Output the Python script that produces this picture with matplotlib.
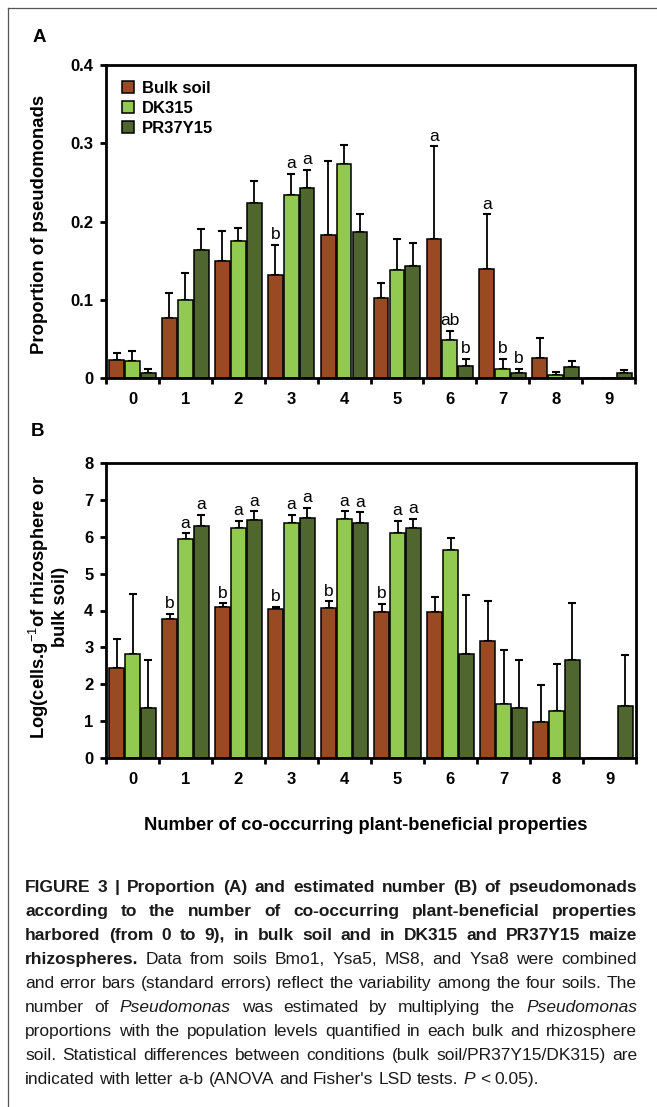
import numpy as np
import matplotlib
matplotlib.use("Agg")
import matplotlib.pyplot as plt
from matplotlib import font_manager
from matplotlib.patches import Patch
from matplotlib.lines import Line2D

plt.rcParams['font.family'] = ['Liberation Sans', 'DejaVu Sans']
plt.rcParams['mathtext.fontset'] = 'custom'
plt.rcParams['mathtext.rm'] = 'Liberation Sans'
plt.rcParams['mathtext.bf'] = 'Liberation Sans:bold'

# data
groups = [str(i) for i in range(10)]
series = ["Bulk soil", "DK315", "PR37Y15"]
colors = ["#9A4A22", "#92C951", "#4F662E"]

# panel A: proportion of pseudomonads (mean, standard error)
prop_bulk = [0.023, 0.077, 0.150, 0.131, 0.183, 0.102, 0.177, 0.139, 0.026, 0.0]
prop_bulk_se = [0.009, 0.031, 0.038, 0.039, 0.094, 0.019, 0.119, 0.070, 0.025, 0.0]
prop_dk = [0.022, 0.100, 0.175, 0.234, 0.274, 0.138, 0.048, 0.012, 0.004, 0.0]
prop_dk_se = [0.012, 0.034, 0.017, 0.027, 0.024, 0.040, 0.012, 0.012, 0.004, 0.0]
prop_pr = [0.007, 0.164, 0.224, 0.243, 0.187, 0.143, 0.015, 0.006, 0.014, 0.006]
prop_pr_se = [0.005, 0.026, 0.028, 0.023, 0.023, 0.029, 0.009, 0.006, 0.008, 0.004]

# panel B: log(cells/g)
log_bulk = [2.43, 3.76, 4.10, 4.03, 4.08, 3.96, 3.96, 3.18, 0.98, 0.0]
log_bulk_se = [0.81, 0.14, 0.09, 0.07, 0.17, 0.21, 0.41, 1.07, 0.99, 0.0]
log_dk = [2.82, 5.93, 6.25, 6.38, 6.47, 6.11, 5.64, 1.46, 1.27, 0.0]
log_dk_se = [1.62, 0.16, 0.18, 0.21, 0.22, 0.31, 0.33, 1.47, 1.27, 0.0]
log_pr = [1.35, 6.30, 6.45, 6.50, 6.38, 6.25, 2.81, 1.35, 2.66, 1.41]
log_pr_se = [1.31, 0.29, 0.24, 0.28, 0.28, 0.23, 1.60, 1.31, 1.53, 1.38]

# significance letters: (group, series index, letter)
letters_a = [(3, 0, "b"), (3, 1, "a"), (3, 2, "a"),
             (6, 0, "a"), (6, 1, "ab"), (6, 2, "b"),
             (7, 0, "a"), (7, 1, "b"), (7, 2, "b")]
letters_b = [(g, s, l) for g in range(1, 6) for s, l in [(0, "b"), (1, "a"), (2, "a")]]

W, H = 657, 1107
fig = plt.figure(figsize=(W / 100, H / 100), dpi=100)

def px_axes(left, top, right, bottom):
    return fig.add_axes([left / W, 1 - bottom / H, (right - left) / W, (bottom - top) / H])

ax_a = px_axes(106, 65, 635, 378)
ax_b = px_axes(106, 463, 636, 758)

x = np.arange(len(groups))
bw = 0.28
offs = [-0.3, 0.0, 0.3]

def draw_panel(ax, means, ses, letters, ymax, yticks, yticklabels):
    for i, (m, se) in enumerate(zip(means, ses)):
        m = np.array(m)
        se = np.array(se)
        ax.bar(x + offs[i], m, bw, color=colors[i], edgecolor="black", linewidth=1.1,
               label=series[i], zorder=2)
        keep = se > 0
        ax.errorbar(x[keep] + offs[i], m[keep], yerr=[np.zeros(keep.sum()), se[keep]],
                    fmt="none", ecolor="black", elinewidth=1.3, capsize=3.2, capthick=1.5,
                    zorder=1)
    for g, s, lab in letters:
        top = means[s][g] + ses[s][g]
        ax.annotate(lab, (g + offs[s], top), xytext=(0, 2), textcoords="offset points",
                    ha="center", va="bottom", fontsize=12.5)
    ax.set_xlim(-0.5, 9.5)
    ax.set_ylim(0, ymax)
    ax.set_yticks(yticks)
    ax.set_yticklabels(yticklabels, fontsize=12, fontweight="bold")
    ax.set_xticks(x)
    ax.set_xticklabels(groups, fontsize=12, fontweight="bold")
    ax.set_xticks(np.arange(-0.5, 10, 1), minor=True)
    ax.tick_params(axis="x", which="major", length=0, pad=10)
    ax.tick_params(axis="x", which="minor", length=4, width=2, direction="out")
    ax.tick_params(axis="y", which="major", length=4, width=2, direction="out", pad=5)
    for sp in ax.spines.values():
        sp.set_linewidth(2.0)

draw_panel(ax_a, [prop_bulk, prop_dk, prop_pr], [prop_bulk_se, prop_dk_se, prop_pr_se],
           letters_a, 0.4, [0, 0.1, 0.2, 0.3, 0.4], ["0", "0.1", "0.2", "0.3", "0.4"])
draw_panel(ax_b, [log_bulk, log_dk, log_pr], [log_bulk_se, log_dk_se, log_pr_se],
           letters_b, 8, range(9), [str(i) for i in range(9)])

handles = [Patch(facecolor=c, edgecolor="black", linewidth=1.1) for c in colors]
ax_a.legend(handles, series, loc="upper left", bbox_to_anchor=(0.0, 1.0), frameon=False,
            prop={"size": 12, "weight": "bold"}, handlelength=0.75, handleheight=0.75,
            handletextpad=0.45, labelspacing=0.3, borderaxespad=0.55)

# labels
fig.text(40 / W, 1 - 224 / H, "Proportion of pseudomonads", rotation=90, ha="center",
         va="center", fontsize=13.3, fontweight="bold")
fig.text(48 / W, 1 - 607 / H, "Log(cells.g$^{-1}$of rhizosphere or\nbulk soil)",
         rotation=90, ha="center", va="center", multialignment="center",
         fontsize=13.2, fontweight="bold", linespacing=1.05)
fig.text(366 / W, 1 - 825 / H, "Number of co-occurring plant-beneficial properties",
         ha="center", va="center", fontsize=13.2, fontweight="bold")
fig.text(33 / W, 1 - 37 / H, "A", ha="left", va="center", fontsize=13.5, fontweight="bold")
fig.text(31 / W, 1 - 431 / H, "B", ha="left", va="center", fontsize=13.5, fontweight="bold")

# page frame lines (top and left)
fig.add_artist(Line2D([8 / W, 8 / W], [0, 1 - 8 / H], color="#555555", lw=0.9))
fig.add_artist(Line2D([8 / W, 1], [1 - 8 / H, 1 - 8 / H], color="#555555", lw=0.9))

# caption, justified word by word
try:
    font_manager.findfont("Liberation Sans Narrow", fallback_to_default=False)
    cap_font = ["Liberation Sans Narrow", "DejaVu Sans"]
except ValueError:
    cap_font = ["Liberation Sans", "DejaVu Sans"]

caption = [
    [("FIGURE 3 | Proportion (A) and estimated number (B) of pseudomonads", "bold", "normal")],
    [("according to the number of co-occurring plant-beneficial properties", "bold", "normal")],
    [("harbored (from 0 to 9), in bulk soil and in DK315 and PR37Y15 maize", "bold", "normal")],
    [("rhizospheres.", "bold", "normal"),
     ("Data from soils Bmo1, Ysa5, MS8, and Ysa8 were combined", "normal", "normal")],
    [("and error bars (standard errors) reflect the variability among the four soils. The",
      "normal", "normal")],
    [("number of", "normal", "normal"), ("Pseudomonas", "normal", "italic"),
     ("was estimated by multiplying the", "normal", "normal"), ("Pseudomonas", "normal", "italic")],
    [("proportions with the population levels quantified in each bulk and rhizosphere",
      "normal", "normal")],
    [("soil. Statistical differences between conditions (bulk soil/PR37Y15/DK315) are",
      "normal", "normal")],
    [("indicated with letter a-b (ANOVA and Fisher's LSD tests.", "normal", "normal"),
     ("P", "normal", "italic"), ("< 0.05).", "normal", "normal")],
]

renderer = fig.canvas.get_renderer()

def text_w(s, weight, style, fs):
    t = fig.text(0, 0, s, fontsize=fs, family=cap_font, fontweight=weight, fontstyle=style)
    w = t.get_window_extent(renderer).width
    t.remove()
    return w

left_px, right_px = 25, 637
span = right_px - left_px

# pick the largest size at which every line fits with ordinary spaces
ref_fs = 10.0
sp10 = text_w("a a", "normal", "normal", ref_fs) - text_w("aa", "normal", "normal", ref_fs)
widest = 0
for segs in caption:
    ws = [(wd, wt, st) for s, wt, st in segs for wd in s.split(" ")]
    nat = sum(text_w(wd, wt, st, ref_fs) for wd, wt, st in ws) + sp10 * (len(ws) - 1)
    widest = max(widest, nat)
cap_fs = min(12.5, ref_fs * span / widest * 0.995)

space_w = text_w("a a", "normal", "normal", cap_fs) - text_w("aa", "normal", "normal", cap_fs)
for li, segs in enumerate(caption):
    words = []
    for s, wt, st in segs:
        for wd in s.split(" "):
            words.append((wd, wt, st, text_w(wd, wt, st, cap_fs)))
    total = sum(w[3] for w in words)
    if li < len(caption) - 1 and len(words) > 1:
        gap = (span - total) / (len(words) - 1)
    else:
        gap = space_w
    xp = left_px
    base = 892 + 24 * li
    for wd, wt, st, ww in words:
        fig.text(xp / W, 1 - base / H, wd, fontsize=cap_fs, family=cap_font,
                 fontweight=wt, fontstyle=st, color="#1a1a1a", ha="left", va="baseline")
        xp += ww + gap

fig.savefig("out.png", dpi=100)
